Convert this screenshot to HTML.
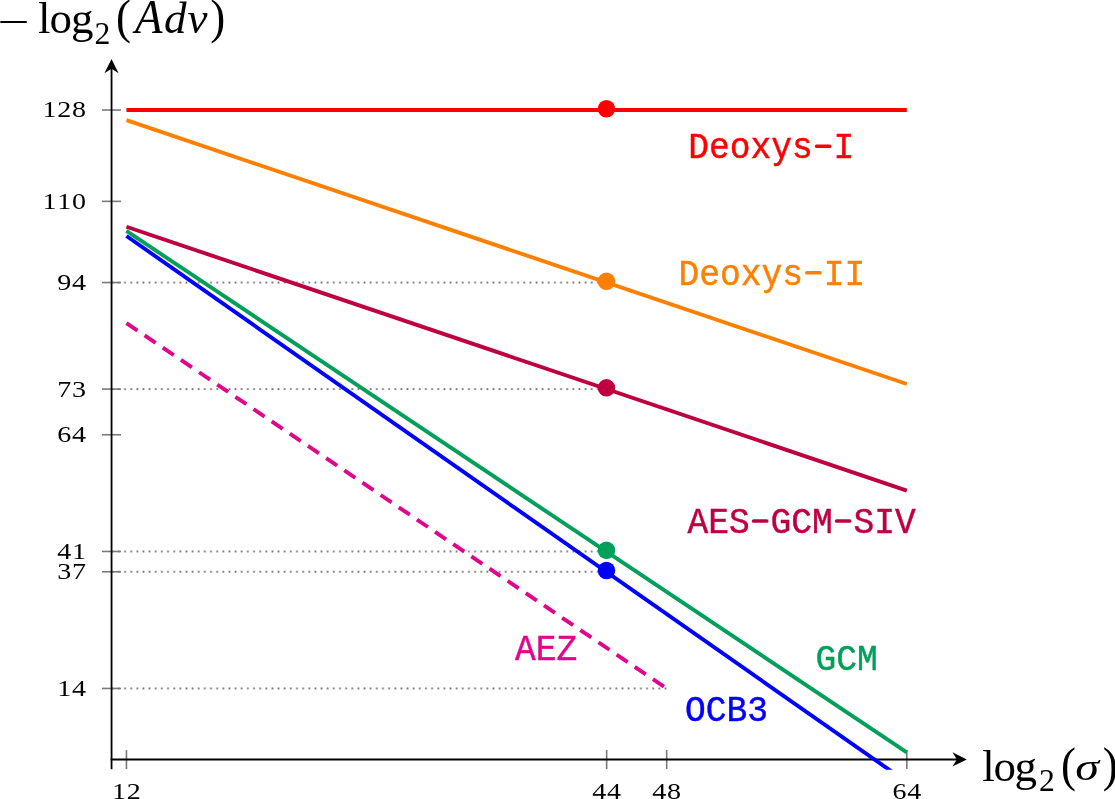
<!DOCTYPE html>
<html><head><meta charset="utf-8"><style>
html,body{margin:0;padding:0;background:#fff;width:1115px;height:799px;overflow:hidden;}
svg{display:block;font-family:"Liberation Serif", serif;will-change:transform;}
</style></head><body>
<svg width="1115" height="799" viewBox="0 0 1115 799">
<defs><pattern id="dots94" x="109.6995" y="280.544" width="6.141" height="4" patternUnits="userSpaceOnUse"><circle cx="3.0705" cy="2" r="1.02" fill="#666"/></pattern><pattern id="dots73" x="109.6995" y="387.098" width="6.141" height="4" patternUnits="userSpaceOnUse"><circle cx="3.0705" cy="2" r="1.02" fill="#666"/></pattern><pattern id="dots41" x="109.6995" y="549.466" width="6.141" height="4" patternUnits="userSpaceOnUse"><circle cx="3.0705" cy="2" r="1.02" fill="#666"/></pattern><pattern id="dots37" x="109.6995" y="569.762" width="6.141" height="4" patternUnits="userSpaceOnUse"><circle cx="3.0705" cy="2" r="1.02" fill="#666"/></pattern><pattern id="dots14" x="109.6995" y="686.464" width="6.141" height="4" patternUnits="userSpaceOnUse"><circle cx="3.0705" cy="2" r="1.02" fill="#666"/></pattern><clipPath id="clip"><rect x="0" y="0" width="1115" height="769.7"/></clipPath></defs>
<rect x="109.70" y="280.54" width="497.96" height="4" fill="url(#dots94)"/><rect x="109.70" y="387.10" width="497.96" height="4" fill="url(#dots73)"/><rect x="109.70" y="549.47" width="497.96" height="4" fill="url(#dots41)"/><rect x="109.70" y="569.76" width="497.96" height="4" fill="url(#dots37)"/><rect x="109.70" y="686.46" width="557.99" height="4" fill="url(#dots14)"/><line x1="102" y1="110.03" x2="121" y2="110.03" stroke="#7a7a7a" stroke-width="1.6"/><line x1="102" y1="201.36" x2="121" y2="201.36" stroke="#7a7a7a" stroke-width="1.6"/><line x1="102" y1="282.54" x2="121" y2="282.54" stroke="#7a7a7a" stroke-width="1.6"/><line x1="102" y1="389.10" x2="121" y2="389.10" stroke="#7a7a7a" stroke-width="1.6"/><line x1="102" y1="434.76" x2="121" y2="434.76" stroke="#7a7a7a" stroke-width="1.6"/><line x1="102" y1="551.47" x2="121" y2="551.47" stroke="#7a7a7a" stroke-width="1.6"/><line x1="102" y1="571.76" x2="121" y2="571.76" stroke="#7a7a7a" stroke-width="1.6"/><line x1="102" y1="688.46" x2="121" y2="688.46" stroke="#7a7a7a" stroke-width="1.6"/><line x1="126.45" y1="750" x2="126.45" y2="769" stroke="#7a7a7a" stroke-width="1.6"/><line x1="606.66" y1="750" x2="606.66" y2="769" stroke="#7a7a7a" stroke-width="1.6"/><line x1="666.69" y1="750" x2="666.69" y2="769" stroke="#7a7a7a" stroke-width="1.6"/><line x1="906.80" y1="750" x2="906.80" y2="769" stroke="#7a7a7a" stroke-width="1.6"/><line x1="111.55" y1="769.2" x2="111.55" y2="68" stroke="#000" stroke-width="1.8"/><path d="M111.5 58.9 L118.6 73.3 L111.5 68.7 L104.4 73.3 Z" fill="#000"/><line x1="110.65" y1="759.5" x2="958" y2="759.5" stroke="#000" stroke-width="1.8"/><path d="M966.8 759.4 L952.5 766.5 L956.9 759.4 L952.5 752.3 Z" fill="#000"/><g clip-path="url(#clip)" fill="none" stroke-width="3.90"><line x1="126.45" y1="110.03" x2="906.80" y2="110.03" stroke="#ff0000"/><line x1="126.45" y1="120.18" x2="906.80" y2="384.02" stroke="#ff8000"/><line x1="126.45" y1="226.73" x2="906.80" y2="490.58" stroke="#bf0040"/><line x1="126.45" y1="230.9" x2="906.80" y2="752.3" stroke="#00a05a"/><line x1="126.45" y1="236.00" x2="906.80" y2="782.09" stroke="#0000ff"/><line x1="126.45" y1="323.14" x2="666.69" y2="688.46" stroke="#e0068c" stroke-dasharray="13.28 8.635"/></g><circle cx="606.45" cy="108.76" r="8.75" fill="#ff0000"/><circle cx="606.45" cy="281.27" r="8.75" fill="#ff8000"/><circle cx="606.45" cy="387.83" r="8.75" fill="#bf0040"/><circle cx="606.45" cy="550.20" r="8.75" fill="#00a05a"/><circle cx="606.45" cy="570.49" r="8.75" fill="#0000ff"/><g font-family="Liberation Serif" font-size="23" fill="#000"><text x="0" y="0" transform="translate(49.50,117.43) scale(1.22,1)" text-anchor="middle">1</text><text x="0" y="0" transform="translate(64.30,117.43) scale(1.22,1)" text-anchor="middle">2</text><text x="0" y="0" transform="translate(79.10,117.43) scale(1.22,1)" text-anchor="middle">8</text><text x="0" y="0" transform="translate(49.50,208.76) scale(1.22,1)" text-anchor="middle">1</text><text x="0" y="0" transform="translate(64.30,208.76) scale(1.22,1)" text-anchor="middle">1</text><text x="0" y="0" transform="translate(79.10,208.76) scale(1.22,1)" text-anchor="middle">0</text><text x="0" y="0" transform="translate(64.30,289.94) scale(1.22,1)" text-anchor="middle">9</text><text x="0" y="0" transform="translate(79.10,289.94) scale(1.22,1)" text-anchor="middle">4</text><text x="0" y="0" transform="translate(64.30,396.50) scale(1.22,1)" text-anchor="middle">7</text><text x="0" y="0" transform="translate(79.10,396.50) scale(1.22,1)" text-anchor="middle">3</text><text x="0" y="0" transform="translate(64.30,442.16) scale(1.22,1)" text-anchor="middle">6</text><text x="0" y="0" transform="translate(79.10,442.16) scale(1.22,1)" text-anchor="middle">4</text><text x="0" y="0" transform="translate(64.30,558.87) scale(1.22,1)" text-anchor="middle">4</text><text x="0" y="0" transform="translate(79.10,558.87) scale(1.22,1)" text-anchor="middle">1</text><text x="0" y="0" transform="translate(64.30,579.16) scale(1.22,1)" text-anchor="middle">3</text><text x="0" y="0" transform="translate(79.10,579.16) scale(1.22,1)" text-anchor="middle">7</text><text x="0" y="0" transform="translate(64.30,695.86) scale(1.22,1)" text-anchor="middle">1</text><text x="0" y="0" transform="translate(79.10,695.86) scale(1.22,1)" text-anchor="middle">4</text><text x="0" y="0" transform="translate(119.05,798.90) scale(1.22,1)" text-anchor="middle">1</text><text x="0" y="0" transform="translate(133.85,798.90) scale(1.22,1)" text-anchor="middle">2</text><text x="0" y="0" transform="translate(599.26,798.90) scale(1.22,1)" text-anchor="middle">4</text><text x="0" y="0" transform="translate(614.06,798.90) scale(1.22,1)" text-anchor="middle">4</text><text x="0" y="0" transform="translate(659.29,798.90) scale(1.22,1)" text-anchor="middle">4</text><text x="0" y="0" transform="translate(674.09,798.90) scale(1.22,1)" text-anchor="middle">8</text><text x="0" y="0" transform="translate(899.40,798.90) scale(1.22,1)" text-anchor="middle">6</text><text x="0" y="0" transform="translate(914.20,798.90) scale(1.22,1)" text-anchor="middle">4</text></g><rect x="0.2" y="20.95" width="26.7" height="2.1" rx="0.9" fill="#000"/><g font-family="Liberation Serif" font-size="45" fill="#000"><text x="37.9" y="33.2">l</text><text x="49.4" y="33.2">o</text><text x="71.07" y="33.2">g</text><text x="94.5" y="43.9" font-size="31.7">2</text><text x="0" y="0" transform="translate(116.1,33.2) scale(1,1.1)">(</text><text x="0" y="0" transform="translate(135.07,33.2) scale(0.95,1)" font-size="47.5" font-style="italic">A</text><text x="164.0" y="33.2" font-style="italic">d</text><text x="187.4" y="33.2" font-style="italic">v</text><text x="0" y="0" transform="translate(210.2,33.2) scale(1,1.1)">)</text><text x="982.3" y="780.8">l</text><text x="993.4" y="780.8">o</text><text x="1014.5" y="780.8">g</text><text x="1038.9" y="790.9" font-size="31.7">2</text><text x="0" y="0" transform="translate(1060.9,780.8) scale(1,1.1)">(</text><text x="0" y="0" transform="translate(1075.3,780.4) scale(1.26,1)" font-size="38.3" font-style="italic">σ</text><text x="0" y="0" transform="translate(1102.8,780.8) scale(1,1.1)">)</text></g><g font-family="Liberation Mono" font-size="36.5"><text x="688.23" y="158.3" fill="#ff0000" stroke="#ff0000" stroke-width="0.45" textLength="166.00" lengthAdjust="spacingAndGlyphs" xml:space="preserve">Deoxys I</text><rect x="814.85" y="144.50" width="16.5" height="3.6" rx="1.6" fill="#ff0000"/><text x="678.48" y="284.8" fill="#ff8000" stroke="#ff8000" stroke-width="0.45" textLength="186.75" lengthAdjust="spacingAndGlyphs" xml:space="preserve">Deoxys II</text><rect x="805.10" y="271.00" width="16.5" height="3.6" rx="1.6" fill="#ff8000"/><text x="687.52" y="533.0" fill="#bf0040" stroke="#bf0040" stroke-width="0.45" textLength="228.25" lengthAdjust="spacingAndGlyphs" xml:space="preserve">AES GCM SIV</text><rect x="751.90" y="519.20" width="16.5" height="3.6" rx="1.6" fill="#bf0040"/><rect x="834.90" y="519.20" width="16.5" height="3.6" rx="1.6" fill="#bf0040"/><text x="514.92" y="659.8" fill="#e0068c" stroke="#e0068c" stroke-width="0.45" textLength="62.25" lengthAdjust="spacingAndGlyphs" xml:space="preserve">AEZ</text><text x="815.62" y="669.8" fill="#00a05a" stroke="#00a05a" stroke-width="0.45" textLength="62.25" lengthAdjust="spacingAndGlyphs" xml:space="preserve">GCM</text><text x="685.12" y="720.7" fill="#0000ff" stroke="#0000ff" stroke-width="0.45" textLength="83.00" lengthAdjust="spacingAndGlyphs" xml:space="preserve">OCB3</text></g>
</svg>
</body></html>
